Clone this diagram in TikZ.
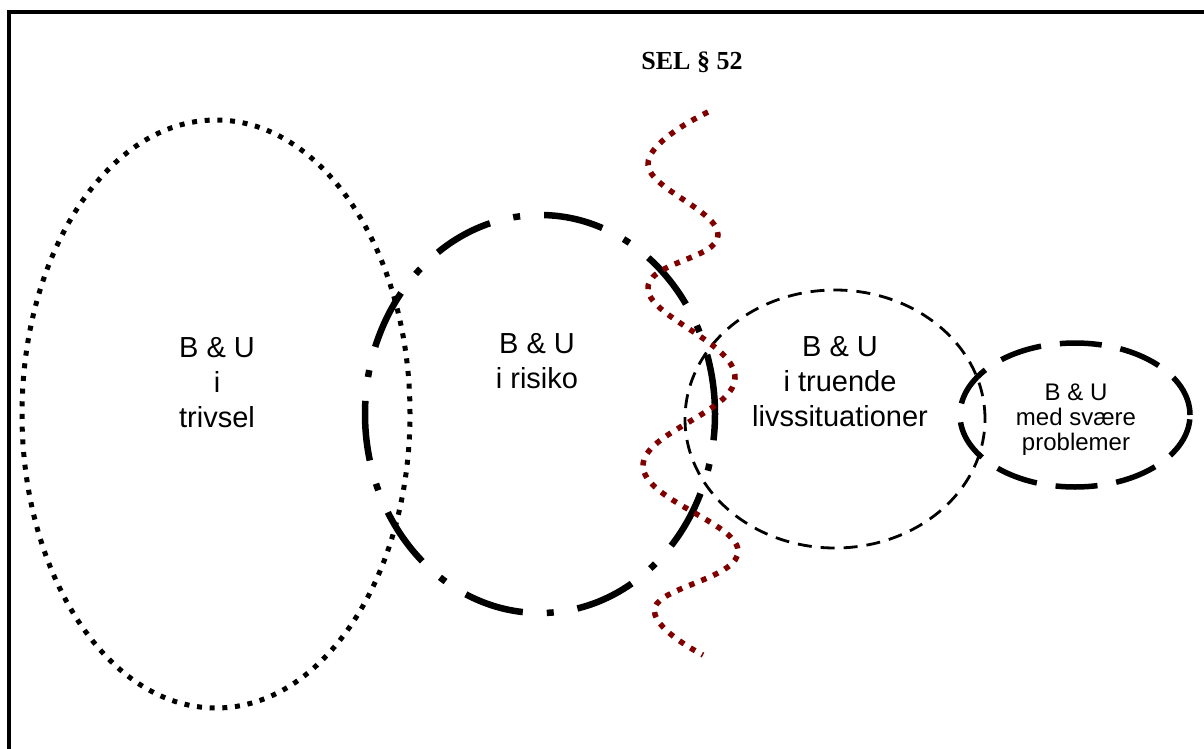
\documentclass[tikz,border=0pt]{standalone}
\usepackage{fontspec}
\setmainfont{Liberation Serif}
\setsansfont{Liberation Sans}
\usepackage{xcolor}
\definecolor{vinrod}{RGB}{128,0,0}

\begin{document}
\begin{tikzpicture}[x=1pt,y=-1pt,
    tekst/.style={align=center, inner sep=0pt, font=\sffamily\fontsize{29}{35}\selectfont}]
    \useasboundingbox (0,0) rectangle (1204,749);

    % Ramme
    \draw[line width=4.5pt, line join=miter] (9,749) -- (9,12) -- (1204,12);

    % Ellipser
    \draw[line width=5pt, dash pattern=on 5pt off 7.7pt] (216,414) ellipse [x radius=194pt, y radius=294pt];
    \draw[line width=6.5pt, dash pattern=on 60pt off 24pt on 7pt off 24pt] (540,414) ellipse [x radius=175pt, y radius=199pt];
    \draw[line width=2.8pt, dash pattern=on 14pt off 9pt] (835,419) ellipse [x radius=150pt, y radius=129pt];
    \draw[line width=5.5pt, dash pattern=on 42pt off 19pt] (1075,415) ellipse [x radius=115pt, y radius=72pt];

    % Graense
    \draw[vinrod, line width=5.5pt, dash pattern=on 5.5pt off 7.5pt]
        plot[smooth, tension=0.7] coordinates {(708,112) (648,165) (718,235) (648,290)
        (735,378) (643,466) (738,550) (655,607) (703,655)};

    % Tekster
    \node[font=\bfseries\fontsize{26}{30}\selectfont, inner sep=0pt] (sel) at (692,62) {SEL \S{} 52};
    \node[tekst] (trivsel) at (217,383) {B \& U\\i\\trivsel};
    \node[tekst] (risiko) at (537,361) {B \& U\\i risiko};
    \node[tekst] (truende) at (840,382) {B \& U\\i truende\\livssituationer};
    \node[tekst, font=\sffamily\fontsize{24}{25}\selectfont] (svaere) at (1076,420) {B \& U\\med svære\\problemer};
\end{tikzpicture}
\end{document}
